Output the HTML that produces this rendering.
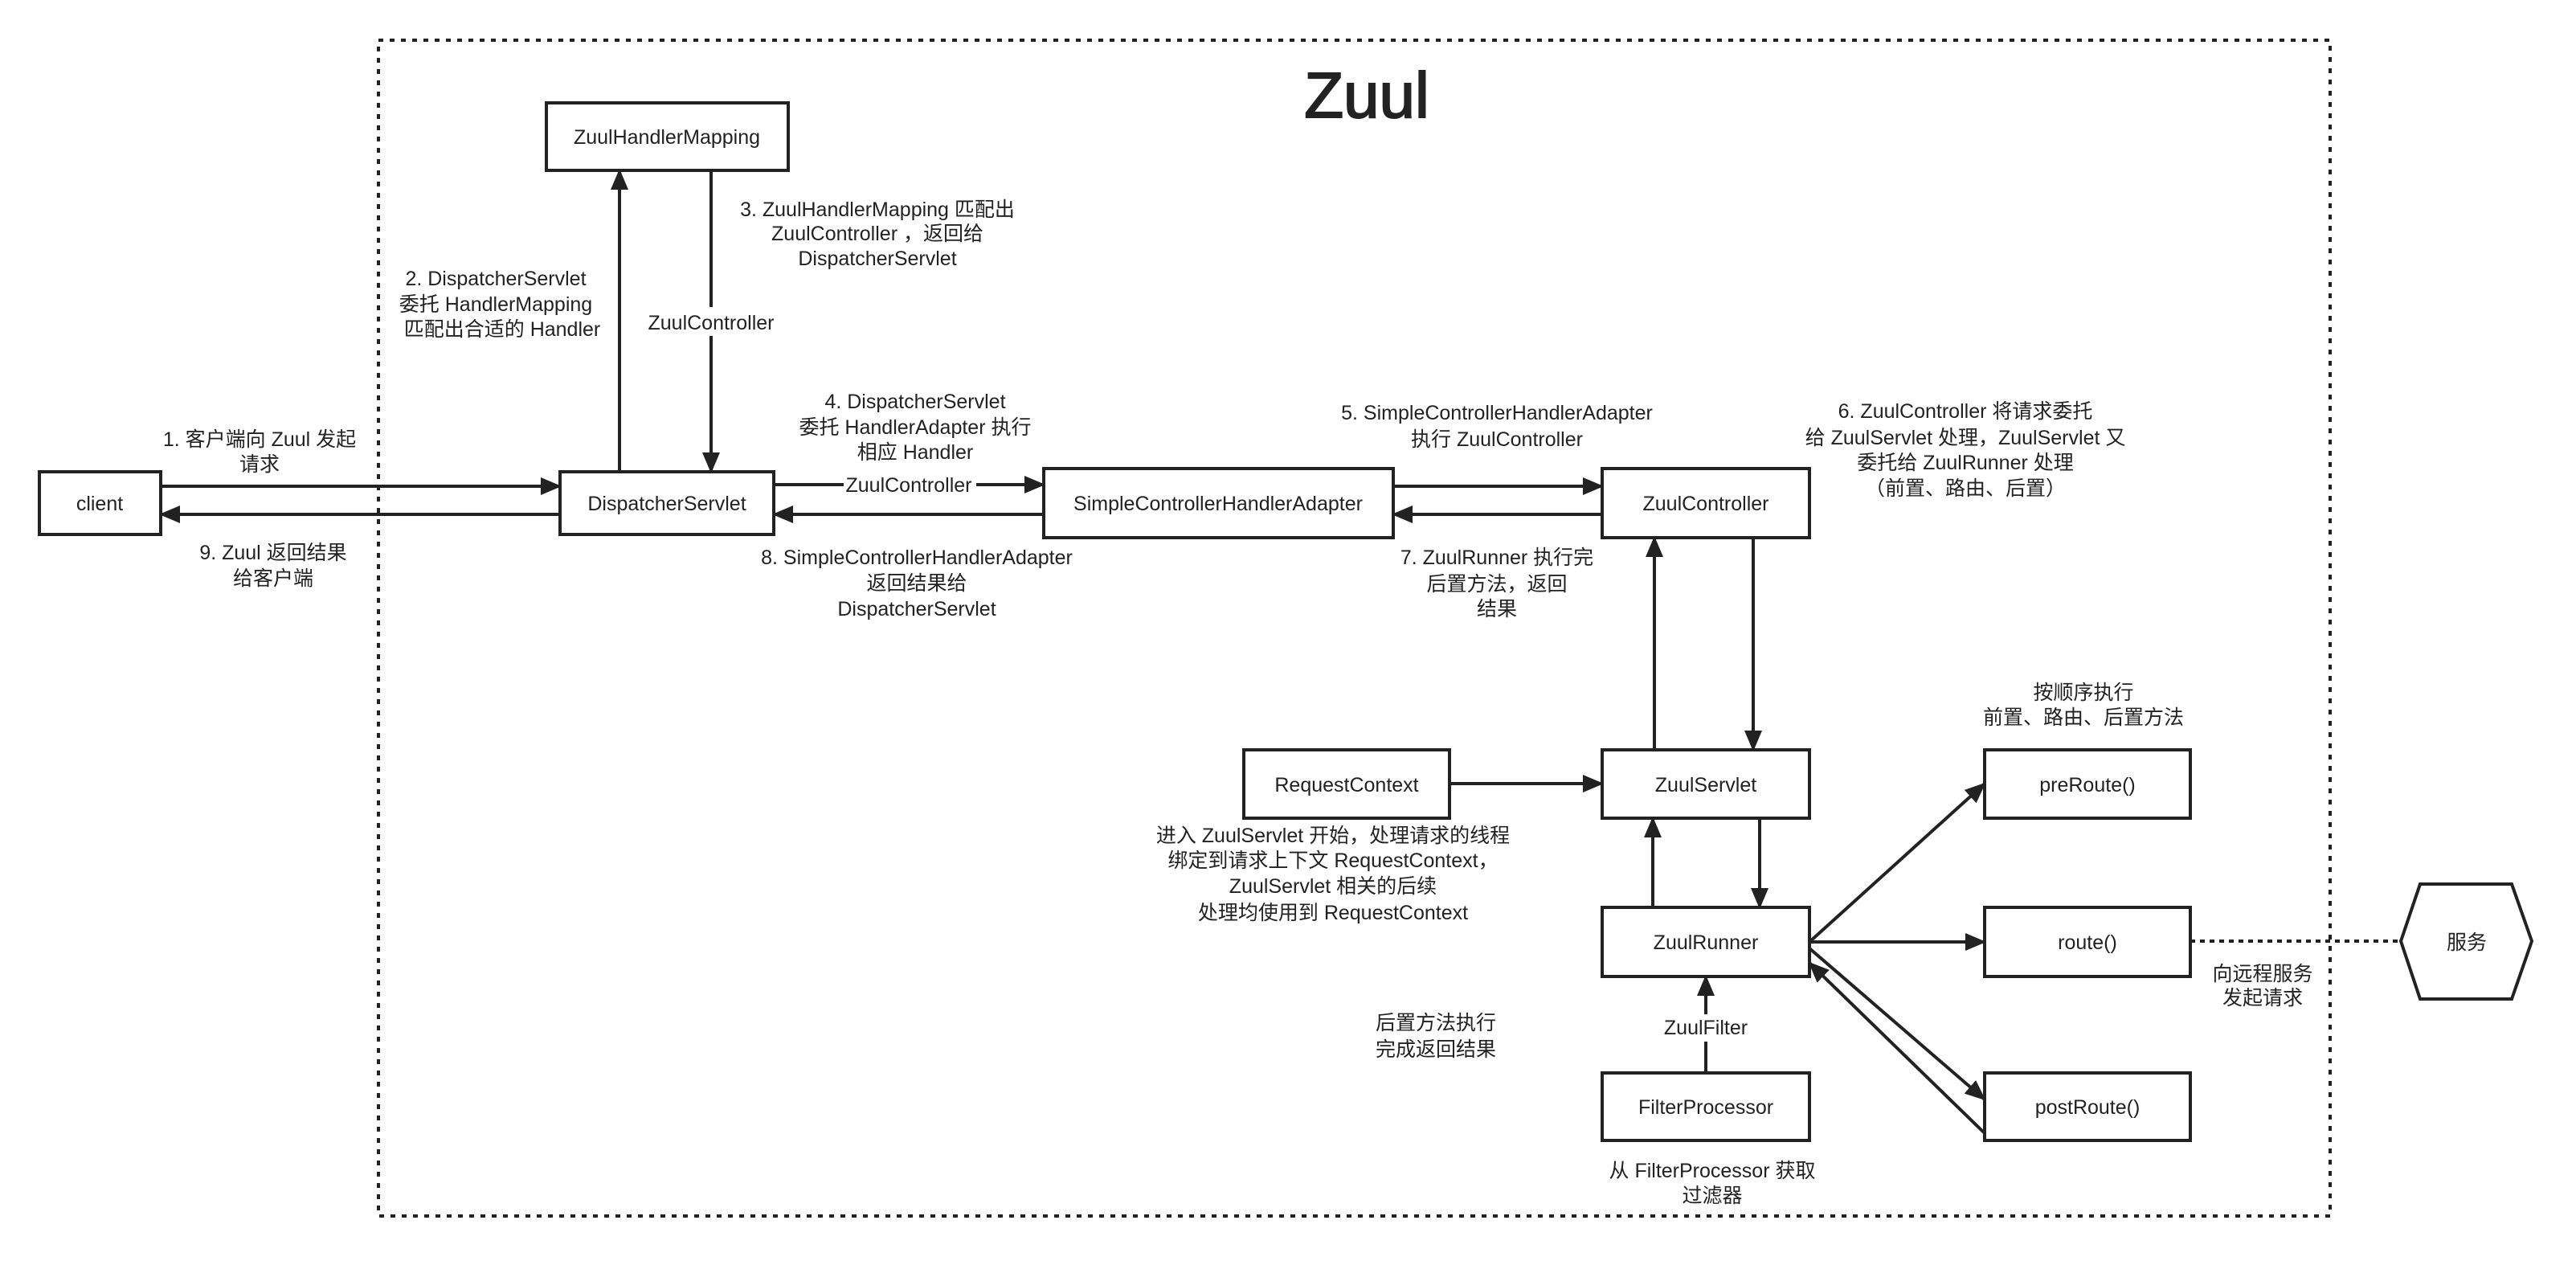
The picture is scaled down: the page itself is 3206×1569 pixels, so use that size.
<!DOCTYPE html>
<html><head><meta charset="utf-8"><style>
html,body{margin:0;padding:0;background:#fff;}
svg text{font-family:"Liberation Sans","Noto Sans CJK SC",sans-serif;fill:#222;}
</style></head><body>
<svg width="3206" height="1564" viewBox="0 0 3206 1564" xmlns="http://www.w3.org/2000/svg">
<defs>
<marker id="a" markerUnits="userSpaceOnUse" markerWidth="26" markerHeight="22" refX="24" refY="11" orient="auto">
<path d="M0,0 L26,11 L0,22 Z" fill="#222"/>
</marker>
</defs>
<rect x="471" y="50" width="2429" height="1463" fill="none" stroke="#222" stroke-width="4" stroke-dasharray="6 8"/>
<text x="1701" y="146" font-size="80" text-anchor="middle" style="fill:#222;stroke:#222;stroke-width:2">Zuul</text>

<g fill="#fff" stroke="#222" stroke-width="4">
<rect x="680" y="128" width="301" height="84"/>
<rect x="49" y="587" width="151" height="78"/>
<rect x="697" y="587" width="266" height="78"/>
<rect x="1299" y="583" width="435" height="86"/>
<rect x="1994" y="583" width="258" height="86"/>
<rect x="1548" y="933" width="256" height="85"/>
<rect x="1994" y="933" width="258" height="85"/>
<rect x="1994" y="1129" width="258" height="86"/>
<rect x="1994" y="1335" width="258" height="84"/>
<rect x="2470" y="933" width="256" height="85"/>
<rect x="2470" y="1129" width="256" height="86"/>
<rect x="2470" y="1335" width="256" height="84"/>
<polygon points="2988,1171 3012,1100 3126,1100 3151,1171 3126,1243 3012,1243"/>
</g>
<g font-size="25" text-anchor="middle">
<text x="830" y="179">ZuulHandlerMapping</text>
<text x="124" y="635">client</text>
<text x="830" y="635">DispatcherServlet</text>
<text x="1516" y="635">SimpleControllerHandlerAdapter</text>
<text x="2123" y="635">ZuulController</text>
<text x="1676" y="985">RequestContext</text>
<text x="2123" y="985">ZuulServlet</text>
<text x="2123" y="1181">ZuulRunner</text>
<text x="2123" y="1386">FilterProcessor</text>
<text x="2598" y="985">preRoute()</text>
<text x="2598" y="1181">route()</text>
<text x="2598" y="1386">postRoute()</text>
<text x="3070" y="1181">服务</text>
</g>

<g stroke="#222" stroke-width="4" fill="none" marker-end="url(#a)">
<line x1="200" y1="605" x2="697" y2="605"/>
<line x1="697" y1="640" x2="200" y2="640"/>
<line x1="771" y1="587" x2="771" y2="212"/>
<line x1="885" y1="212" x2="885" y2="587"/>
<line x1="963" y1="603" x2="1299" y2="603"/>
<line x1="1299" y1="640" x2="963" y2="640"/>
<line x1="1734" y1="605" x2="1994" y2="605"/>
<line x1="1994" y1="640" x2="1734" y2="640"/>
<line x1="2059" y1="933" x2="2059" y2="669"/>
<line x1="2182" y1="669" x2="2182" y2="933"/>
<line x1="1804" y1="975" x2="1994" y2="975"/>
<line x1="2057" y1="1129" x2="2057" y2="1018"/>
<line x1="2190" y1="1018" x2="2190" y2="1129"/>
<line x1="2123" y1="1335" x2="2123" y2="1215"/>
<line x1="2252" y1="1172" x2="2470" y2="975"/>
<line x1="2252" y1="1172" x2="2470" y2="1172"/>
<line x1="2252" y1="1180" x2="2470" y2="1368"/>
<line x1="2470" y1="1410" x2="2252" y2="1198"/>
</g>
<line x1="2726" y1="1171" x2="2988" y2="1171" stroke="#222" stroke-width="4" stroke-dasharray="6 6"/>

<g fill="#fff">
<rect x="825" y="382" width="120" height="36"/>
<rect x="1050" y="588" width="165" height="32"/>
<rect x="2070" y="1262" width="106" height="34"/>
</g>
<g font-size="25" text-anchor="middle">
<text x="885" y="410">ZuulController</text>
<text x="1131" y="612">ZuulController</text>
<text x="2123" y="1287">ZuulFilter</text>

<text x="323" y="555">1. 客户端向 Zuul 发起</text>
<text x="323" y="586">请求</text>
<text x="340" y="696">9. Zuul 返回结果</text>
<text x="340" y="728">给客户端</text>
<text x="617" y="355">2. DispatcherServlet</text>
<text x="617" y="387">委托 HandlerMapping</text>
<text x="625" y="418">匹配出合适的 Handler</text>
<text x="1092" y="269">3. ZuulHandlerMapping 匹配出</text>
<text x="1092" y="299">ZuulController ，返回给</text>
<text x="1092" y="330">DispatcherServlet</text>
<text x="1139" y="508">4. DispatcherServlet</text>
<text x="1139" y="540">委托 HandlerAdapter  执行</text>
<text x="1139" y="571">相应 Handler</text>
<text x="1141" y="702">8. SimpleControllerHandlerAdapter</text>
<text x="1141" y="734">返回结果给</text>
<text x="1141" y="766">DispatcherServlet</text>
<text x="1863" y="522">5. SimpleControllerHandlerAdapter</text>
<text x="1863" y="555">执行 ZuulController</text>
<text x="2446" y="520">6. ZuulController 将请求委托</text>
<text x="2446" y="553">给 ZuulServlet 处理，ZuulServlet 又</text>
<text x="2446" y="584">委托给 ZuulRunner 处理</text>
<text x="2446" y="616">（前置、路由、后置）</text>
<text x="1863" y="702">7. ZuulRunner 执行完</text>
<text x="1863" y="735">后置方法，返回</text>
<text x="1863" y="766">结果</text>
<text x="2593" y="870">按顺序执行</text>
<text x="2593" y="901">前置、路由、后置方法</text>
<text x="1659" y="1048">进入 ZuulServlet 开始，处理请求的线程</text>
<text x="1659" y="1079">绑定到请求上下文 RequestContext，</text>
<text x="1659" y="1111">ZuulServlet 相关的后续</text>
<text x="1659" y="1144">处理均使用到 RequestContext</text>
<text x="1787" y="1281">后置方法执行</text>
<text x="1787" y="1314">完成返回结果</text>
<text x="2131" y="1465">从 FilterProcessor 获取</text>
<text x="2131" y="1496">过滤器</text>
<text x="2816" y="1220">向远程服务</text>
<text x="2816" y="1250">发起请求</text>
</g>
</svg>
</body></html>
